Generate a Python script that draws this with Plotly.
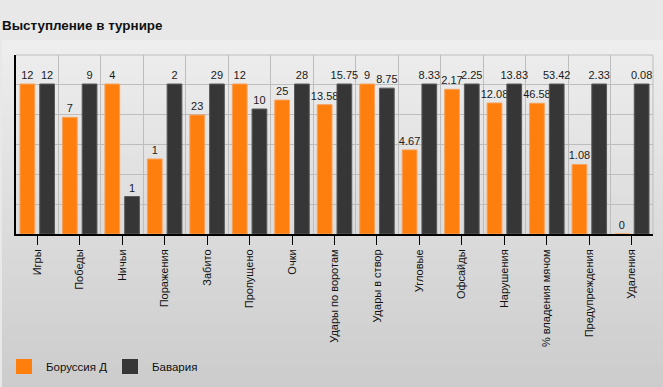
import plotly.graph_objects as go

categories = ["Игры", "Победы", "Ничьи", "Поражения", "Забито", "Пропущено", "Очки",
              "Удары по воротам", "Удары в створ", "Угловые", "Офсайды", "Нарушения",
              "% владения мячом", "Предупреждения", "Удаления"]
borussia = [12, 7, 4, 1, 23, 12, 25, 13.58, 9, 4.67, 2.17, 12.08, 46.58, 1.08, 0]
bayern = [12, 9, 1, 2, 29, 10, 28, 15.75, 8.75, 8.33, 2.25, 13.83, 53.42, 2.33, 0.08]
series_names = ["Боруссия Д", "Бавария"]
title_text = "Выступление в турнире"

W, H = 663, 387
L, R, T, B = 16, 10, 55, 153
PW, PH = W - L - R, H - T - B

def px_x(x):
    return (x - L) / PW

def px_y(y):
    return (H - B - y) / PH

maxes = [max(a, b) for a, b in zip(borussia, bayern)]
norm_b = [a / m if m else 0 for a, m in zip(borussia, maxes)]
norm_y = [b / m if m else 0 for b, m in zip(bayern, maxes)]

def fmt(v):
    return ("%g" % v)

xs = list(range(len(categories)))
font = "Liberation Sans, Arial, sans-serif"

fig = go.Figure()
fig.add_trace(go.Bar(x=xs, y=norm_b, name=series_names[0], text=[fmt(v) for v in borussia],
                     textposition="outside", cliponaxis=False,
                     textfont=dict(size=11, color="#1a1a1a", family=font),
                     marker=dict(color="#ff7f0e", line=dict(color="#f7a25c", width=1)),
                     hoverinfo="skip"))
fig.add_trace(go.Bar(x=xs, y=norm_y, name=series_names[1], text=[fmt(v) for v in bayern],
                     textposition="outside", cliponaxis=False,
                     textfont=dict(size=11, color="#1a1a1a", family=font),
                     marker=dict(color="#363636", line=dict(color="#5a5a5a", width=1)),
                     hoverinfo="skip"))

shapes = []
# gradient panel background
n = 60
top_px, bot_px = 40, H
c0, c1 = 0xee, 0xcc
for i in range(n):
    y0 = top_px + (bot_px - top_px) * i / n
    y1 = top_px + (bot_px - top_px) * (i + 1) / n + 0.5
    c = round(c0 + (c1 - c0) * (i + 0.5) / n)
    col = "#%02x%02x%02x" % (c, c, c)
    shapes.append(dict(type="rect", xref="paper", yref="paper", layer="below",
                       x0=px_x(2), x1=px_x(W), y0=px_y(y1), y1=px_y(y0),
                       fillcolor=col, line=dict(width=0)))
# top and right frame lines of the plot area
shapes.append(dict(type="line", xref="paper", yref="paper", x0=0, x1=1, y0=1, y1=1,
                   line=dict(color="#bdbdbd", width=1), layer="below"))
shapes.append(dict(type="line", xref="paper", yref="paper", x0=1, x1=1, y0=0, y1=1,
                   line=dict(color="#bdbdbd", width=1), layer="below"))

# manual legend
colors = ["#ff7f0e", "#363636"]
leg_sq_x = [16, 122]
leg_tx_x = [44, 150]
annotations = []
for name, col, sx, tx in zip(series_names, colors, leg_sq_x, leg_tx_x):
    shapes.append(dict(type="rect", xref="paper", yref="paper",
                       x0=px_x(sx), x1=px_x(sx + 16), y0=px_y(374), y1=px_y(359),
                       fillcolor=col, line=dict(width=0)))
    annotations.append(dict(text=name, xref="paper", yref="paper", x=px_x(tx), y=px_y(367),
                            xanchor="left", yanchor="middle", showarrow=False,
                            font=dict(size=11.5, color="#111111", family=font)))

fig.update_layout(
    width=W, height=H,
    margin=dict(l=L, r=R, t=T, b=B, pad=0),
    paper_bgcolor="#e8e8e8",
    plot_bgcolor="rgba(0,0,0,0)",
    barmode="group", bargap=0.07, bargroupgap=0.253,
    uniformtext=dict(minsize=11, mode="show"),
    showlegend=False,
    title=dict(text="<b>" + title_text + "</b>", xref="container", yref="container",
               x=2 / W, xanchor="left", y=1 - 25 / H, yanchor="middle",
               font=dict(size=13.4, color="#111111", family=font)),
    shapes=shapes, annotations=annotations,
    xaxis=dict(range=[-0.5, len(categories) - 0.5], tickvals=xs, ticktext=categories,
               tickangle=-90, ticks="outside", ticklen=9, tickcolor="#000000", tickwidth=1,
               showgrid=False, zeroline=False,
               showline=True, linecolor="#000000", linewidth=2,
               tickfont=dict(size=11, color="#111111", family=font),
               minor=dict(tickvals=[i + 0.5 for i in xs], showgrid=True,
                          gridcolor="#bdbdbd", gridwidth=1, ticks="")),
    yaxis=dict(range=[0, PH / 150], dtick=0.2, tick0=0, showticklabels=False, ticks="",
               showgrid=True, gridcolor="#bdbdbd", gridwidth=1, zeroline=False,
               showline=True, linecolor="#000000", linewidth=2),
)

fig.write_html("out.html", config={"displayModeBar": False},
               post_script="document.body.style.margin='0';document.body.style.overflow='hidden';")
